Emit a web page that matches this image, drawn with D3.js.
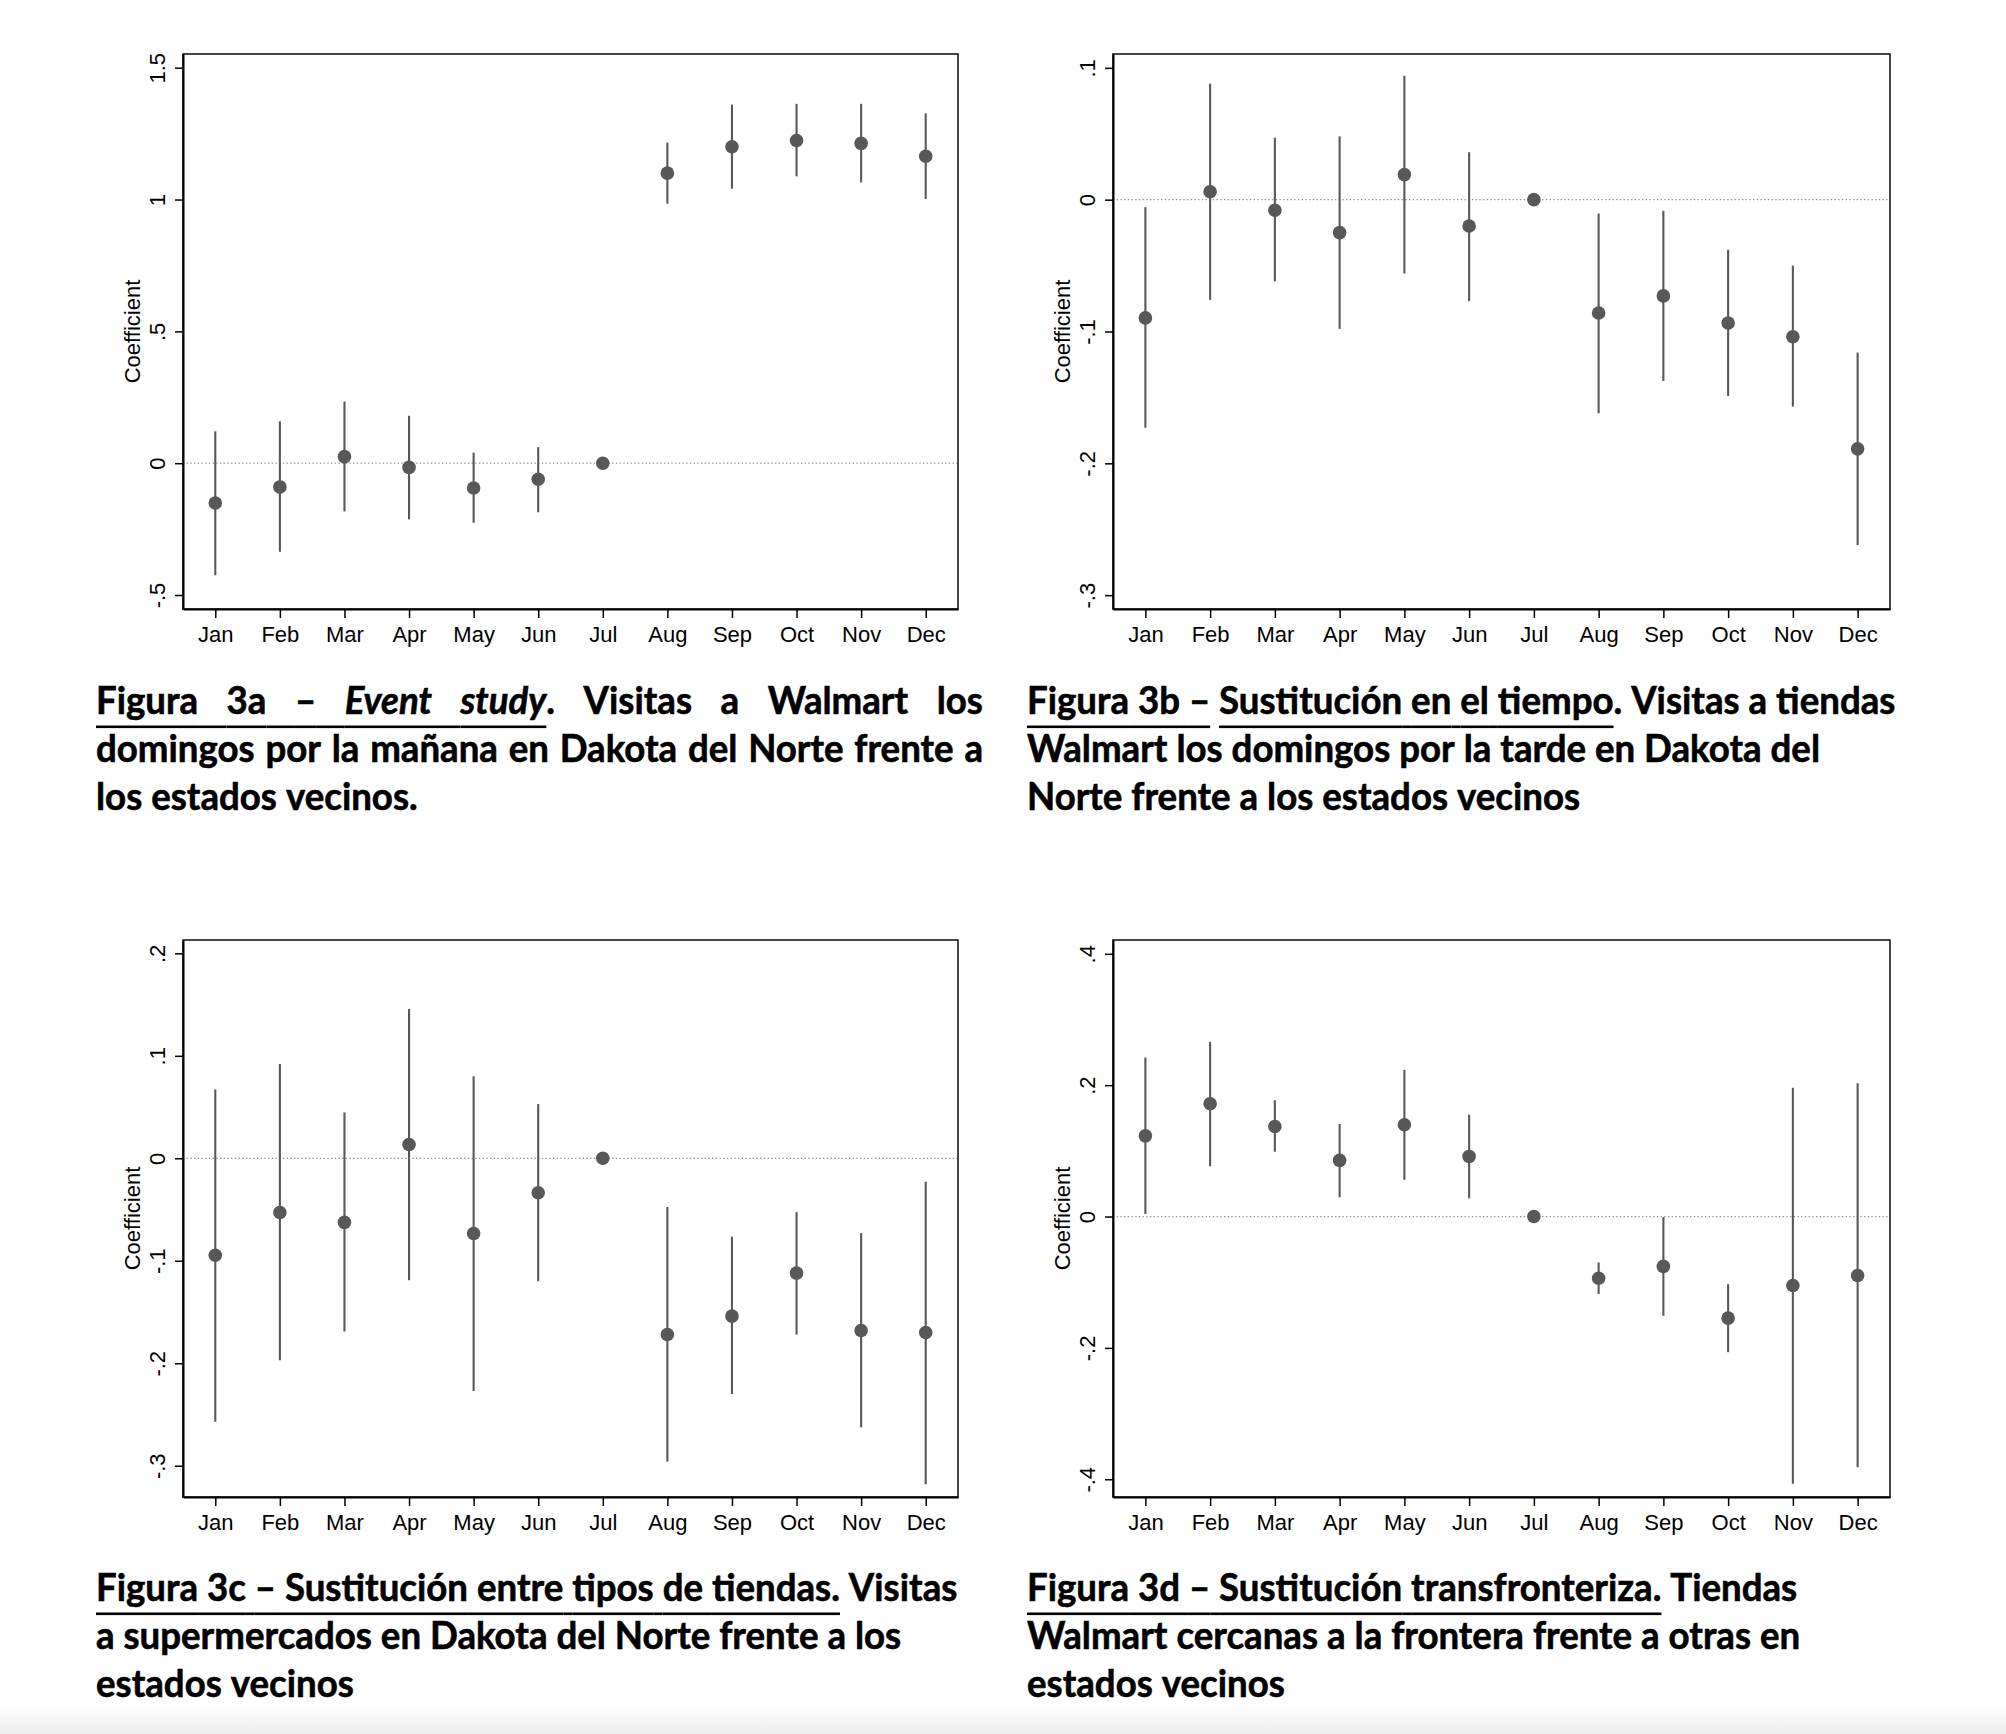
<!DOCTYPE html>
<html><head><meta charset="utf-8">
<script src="https://cdn.jsdelivr.net/npm/d3@7"></script>
<style>html,body{margin:0;padding:0;background:#fff;} svg{display:block;}</style>
</head><body>
<script>
// ---------------- DATA ----------------
const months = ["Jan","Feb","Mar","Apr","May","Jun","Jul","Aug","Sep","Oct","Nov","Dec"];
const monthIdx = [1,2,3,4,5,6,7,8,9,10,11,12];

// Figura 3a
const coefA = [-0.151,-0.090,0.025,-0.016,-0.094,-0.061,0,1.100,1.200,1.224,1.213,1.164];
const lowA  = [-0.425,-0.336,-0.183,-0.213,-0.226,-0.186,null,0.984,1.041,1.088,1.065,1.002];
const highA = [0.121,0.159,0.234,0.180,0.040,0.061,null,1.216,1.360,1.363,1.363,1.327];
const ticksA = [-0.5,0,0.5,1,1.5];
const tickLabelsA = ["-.5","0",".5","1","1.5"];
const rangeA = [-0.553,1.552];

// Figura 3b
const coefB = [-0.0897,0.006,-0.008,-0.025,0.019,-0.020,0,-0.086,-0.073,-0.0936,-0.104,-0.189];
const lowB  = [-0.173,-0.076,-0.062,-0.098,-0.056,-0.077,null,-0.162,-0.1375,-0.149,-0.157,-0.262];
const highB = [-0.0057,0.088,0.047,0.048,0.094,0.036,null,-0.0105,-0.0084,-0.038,-0.050,-0.116];
const ticksB = [-0.3,-0.2,-0.1,0,0.1];
const tickLabelsB = ["-.3","-.2","-.1","0",".1"];
const rangeB = [-0.3105,0.1105];

// Figura 3c
const coefC = [-0.0946,-0.0529,-0.0625,0.0135,-0.0734,-0.0336,0,-0.172,-0.154,-0.112,-0.168,-0.170];
const lowC  = [-0.257,-0.197,-0.169,-0.119,-0.227,-0.120,null,-0.296,-0.230,-0.172,-0.2625,-0.318];
const highC = [0.0672,0.0919,0.0448,0.1456,0.080,0.0529,null,-0.0475,-0.0764,-0.0525,-0.073,-0.0228];
const ticksC = [-0.3,-0.2,-0.1,0,0.1,0.2];
const tickLabelsC = ["-.3","-.2","-.1","0",".1",".2"];
const rangeC = [-0.3305,0.213];

// Figura 3d
const coefD = [0.1228,0.1716,0.137,0.0855,0.1397,0.0915,0,-0.0939,-0.0759,-0.1547,-0.105,-0.0897];
const lowD  = [0.004,0.0765,0.0987,0.0295,0.056,0.0277,null,-0.118,-0.151,-0.2065,-0.407,-0.3817];
const highD = [0.242,0.266,0.177,0.141,0.2234,0.155,null,-0.070,-0.001,-0.103,0.196,0.203];
const ticksD = [-0.4,-0.2,0,0.2,0.4];
const tickLabelsD = ["-.4","-.2","0",".2",".4"];
const rangeD = [-0.427,0.421];

const yTitle = "Coefficient";

// Captions (text pieces: u = underlined, i = italic)
const captionA = [
  [{t:"Figura 3a – ",u:1},{t:"Event study",u:1,i:1},{t:". Visitas a Walmart los"}],
  [{t:"domingos por la mañana en Dakota del Norte frente a"}],
  [{t:"los estados vecinos."}]
];
const captionB = [
  [{t:"Figura 3b –",u:1},{t:" "},{t:"Sustitución en el tiempo",u:1},{t:". Visitas a tiendas"}],
  [{t:"Walmart los domingos por la tarde en Dakota del"}],
  [{t:"Norte frente a los estados vecinos"}]
];
const captionC = [
  [{t:"Figura 3c – Sustitución entre tipos de tiendas.",u:1},{t:" Visitas"}],
  [{t:"a supermercados en Dakota del Norte frente a los"}],
  [{t:"estados vecinos"}]
];
const captionD = [
  [{t:"Figura 3d – Sustitución transfronteriza.",u:1},{t:" Tiendas"}],
  [{t:"Walmart cercanas a la frontera frente a otras en"}],
  [{t:"estados vecinos"}]
];

// ---------------- LAYOUT ----------------
const W = 2006, H = 1734;
const axisFont = "'Liberation Sans', Arial, Helvetica, sans-serif";
const capFont = "Lato, 'Open Sans', sans-serif";
const markColor = "#585858";

const svg = d3.select("body").append("svg").attr("width", W).attr("height", H)
  .attr("viewBox", `0 0 ${W} ${H}`);
svg.append("rect").attr("width", W).attr("height", H).attr("fill", "#fff");

const defs = svg.append("defs");
const grad = defs.append("linearGradient").attr("id","bottomShade").attr("x1",0).attr("x2",0).attr("y1",0).attr("y2",1);
grad.append("stop").attr("offset","0%").attr("stop-color","#ffffff");
grad.append("stop").attr("offset","100%").attr("stop-color","#ececec");
svg.append("rect").attr("x",0).attr("y",1706).attr("width",W).attr("height",H-1706).attr("fill","url(#bottomShade)");

const panels = [
  {box:{l:183,r:958,t:54,b:609},  coef:coefA, low:lowA, high:highA, ticks:ticksA, labels:tickLabelsA, range:rangeA},
  {box:{l:1113,r:1890,t:54,b:609},coef:coefB, low:lowB, high:highB, ticks:ticksB, labels:tickLabelsB, range:rangeB},
  {box:{l:183,r:958,t:940,b:1497},coef:coefC, low:lowC, high:highC, ticks:ticksC, labels:tickLabelsC, range:rangeC},
  {box:{l:1113,r:1890,t:940,b:1497},coef:coefD, low:lowD, high:highD, ticks:ticksD, labels:tickLabelsD, range:rangeD}
];

panels.forEach(p => {
  const {l,r,t,b} = p.box;
  const x = d3.scaleLinear().domain([0.5,12.5]).range([l,r]);
  const y = d3.scaleLinear().domain(p.range).range([b,t]);
  const g = svg.append("g");

  // zero reference line (dotted)
  g.append("line").attr("x1",l).attr("x2",r).attr("y1",y(0)).attr("y2",y(0))
    .attr("stroke","#8c8c8c").attr("stroke-width",1.3).attr("stroke-dasharray","1.3,2.4");

  const rows = monthIdx.map((m,i)=>({m, c:p.coef[i], lo:p.low[i], hi:p.high[i]}));
  // CI spikes
  g.selectAll("line.ci").data(rows.filter(d=>d.lo!==null)).join("line")
    .attr("class","ci")
    .attr("x1",d=>x(d.m)).attr("x2",d=>x(d.m))
    .attr("y1",d=>y(d.lo)).attr("y2",d=>y(d.hi))
    .attr("stroke",markColor).attr("stroke-width",2.1);

  // points
  g.selectAll("circle").data(rows).join("circle")
    .attr("cx",d=>x(d.m)).attr("cy",d=>y(d.c)).attr("r",6.8)
    .attr("fill",markColor);

  // frame
  g.append("rect").attr("x",l).attr("y",t).attr("width",r-l).attr("height",b-t)
    .attr("fill","none").attr("stroke","#1a1a1a").attr("stroke-width",1.6);

  // y axis
  const ya = g.append("g").attr("transform",`translate(${l},0)`)
    .call(d3.axisLeft(y).tickValues(p.ticks).tickFormat((d,i)=>p.labels[i]).tickSize(8).tickSizeOuter(0));
  ya.select(".domain").attr("stroke","#000").attr("stroke-width",2);
  ya.selectAll(".tick line").attr("stroke","#000").attr("stroke-width",1.5);
  ya.selectAll(".tick text")
    .attr("transform","rotate(-90)").attr("x",0).attr("y",-18).attr("dy",0)
    .attr("text-anchor","middle").attr("fill","#000")
    .style("font-family",axisFont).style("font-size","22px");

  // x axis
  const xa = g.append("g").attr("transform",`translate(0,${b})`)
    .call(d3.axisBottom(x).tickValues(monthIdx).tickFormat((d,i)=>months[i]).tickSize(9).tickSizeOuter(0));
  xa.select(".domain").attr("stroke","#000").attr("stroke-width",2);
  xa.selectAll(".tick line").attr("stroke","#000").attr("stroke-width",1.5);
  xa.selectAll(".tick text").attr("y",33).attr("dy",0).attr("fill","#000")
    .style("font-family",axisFont).style("font-size","22px");

  // y title
  g.append("text").attr("transform",`translate(${l-43},${(t+b)/2}) rotate(-90)`)
    .attr("text-anchor","middle").attr("fill","#000")
    .style("font-family",axisFont).style("font-size","22px").text(yTitle);
});

// ---------------- CAPTIONS ----------------
const capSize = 38;
const measurer = svg.append("text").style("font-family",capFont).style("font-size",capSize+"px")
  .style("font-weight","700").attr("x",-1000).attr("y",-1000);
function measure(txt, italic){
  measurer.style("font-style", italic ? "italic" : "normal").text(txt);
  return measurer.node().getComputedTextLength();
}
const refWidth = 257; // width of "estados vecinos" in the reference
const sx = refWidth / measure("estados vecinos", false);
const spaceW = measure("a a",false) - measure("aa",false);

function tokenize(pieces){
  const tokens = [];
  pieces.forEach(pc => {
    pc.t.split(/( )/).filter(s=>s!=="").forEach(part => {
      if (part === " ") tokens.push({space:true, u:!!pc.u});
      else {
        const last = tokens[tokens.length-1];
        const item = {text:part, i:!!pc.i, u:!!pc.u};
        if (last && !last.space) last.parts.push(item);
        else tokens.push({space:false, parts:[item]});
      }
    });
  });
  return tokens;
}

function drawCaption(lines, x0, baselines, justifyWidth, justifyLines){
  lines.forEach((pieces, li) => {
    const g = svg.append("g").attr("transform",`translate(${x0},${baselines[li]}) scale(${sx},1)`);
    const tokens = tokenize(pieces);
    tokens.forEach(tk => { if(!tk.space) tk.parts.forEach(pt => pt.w = measure(pt.text, pt.i)); });
    const wordsW = d3.sum(tokens.filter(t=>!t.space), t=>d3.sum(t.parts,p=>p.w));
    const nSp = tokens.filter(t=>t.space).length;
    const gap = (justifyLines.includes(li) && nSp>0) ? (justifyWidth/sx - wordsW)/nSp : spaceW;
    let cx = 0;
    const ulY = 11.5, ulH = 2.6;
    tokens.forEach(tk => {
      if (tk.space){
        if (tk.u) g.append("rect").attr("x",cx).attr("y",ulY).attr("width",gap).attr("height",ulH).attr("fill","#000");
        cx += gap;
      } else {
        tk.parts.forEach(pt => {
          g.append("text").attr("x",cx).attr("y",0).attr("fill","#000")
            .attr("stroke","#000").attr("stroke-width",0.6)
            .style("font-family",capFont).style("font-size",capSize+"px").style("font-weight","700")
            .style("font-style", pt.i ? "italic" : "normal").text(pt.text);
          if (pt.u) g.append("rect").attr("x",cx).attr("y",ulY).attr("width",pt.w).attr("height",ulH).attr("fill","#000");
          cx += pt.w;
        });
      }
    });
  });
}
drawCaption(captionA, 96, [714,762,810], 887, [0,1]);
drawCaption(captionB, 1027, [714,762,810], 0, []);
drawCaption(captionC, 96, [1601,1649,1697], 0, []);
drawCaption(captionD, 1027, [1601,1649,1697], 0, []);
measurer.remove();
</script>
</body></html>
